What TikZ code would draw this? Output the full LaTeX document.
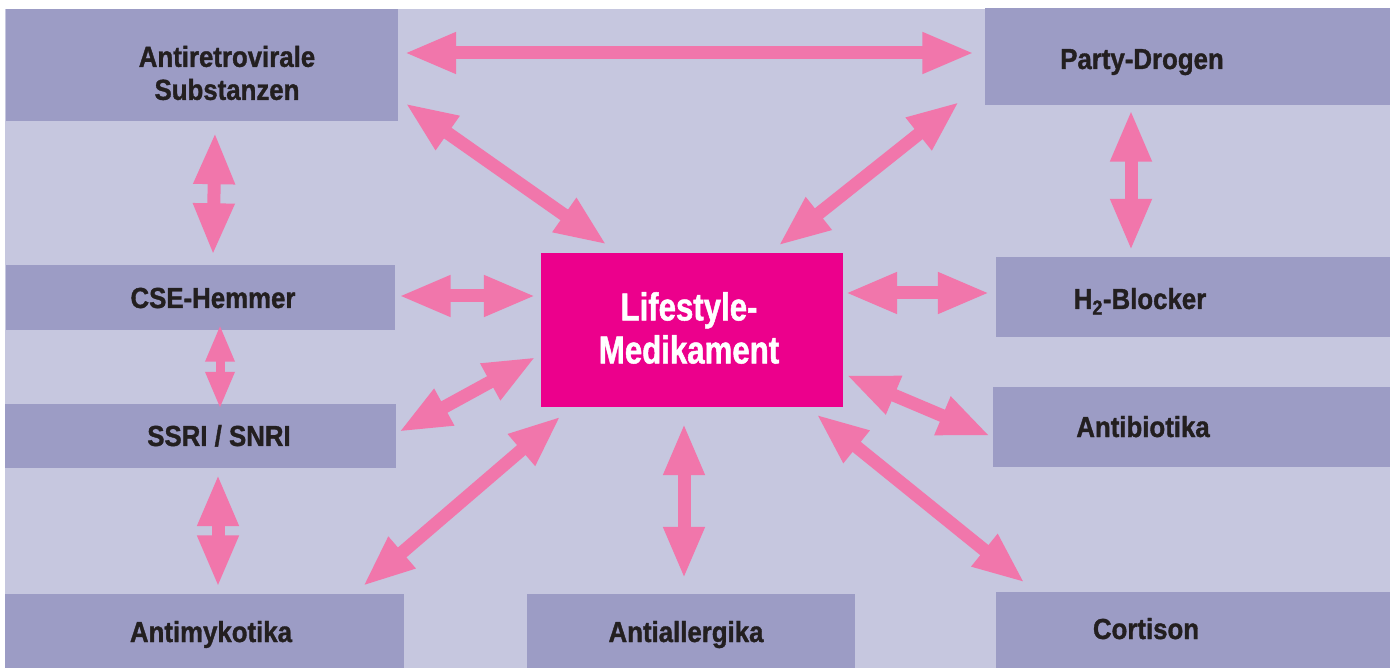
\documentclass[tikz,border=0pt]{standalone}
\usepackage{fontspec}
\setmainfont{Liberation Sans}[FakeStretch=0.89,BoldFeatures={FakeBold=1.2}]
\newfontfamily\lifefont{Liberation Sans}[FakeStretch=0.80,BoldFeatures={FakeBold=1.2}]
\usepackage{tikz}
\usetikzlibrary{arrows.meta}
\definecolor{bglilac}{HTML}{C6C7DF}
\definecolor{boxlilac}{HTML}{9C9CC5}
\definecolor{lifemagenta}{HTML}{EC008C}
\definecolor{arrowpink}{HTML}{F176AB}
\definecolor{labelgrey}{HTML}{231F20}
\tikzset{
    drug box/.style={
        fill=boxlilac,
        inner sep=0pt
    },
    drug label/.style={
        text=labelgrey,
        font=\fontsize{29}{33}\selectfont\bfseries,
        align=center,
        inner sep=0pt
    },
    both ways/.style={
        draw=arrowpink,
        line width=13pt,
        {Triangle[width=38pt,length=52pt]}-{Triangle[width=38pt,length=52pt]}
    },
    both ways small/.style={
        draw=arrowpink,
        line width=9pt,
        {Triangle[width=27pt,length=37pt]}-{Triangle[width=27pt,length=37pt]}
    }
}
\begin{document}
\begin{tikzpicture}[x=1pt,y=-1pt]
            \useasboundingbox (0,0) rectangle (1393,668);
            \fill[bglilac] (5,9) rectangle (1390,668);

            % boxes
            \node[drug box, minimum width=392pt, minimum height=112pt] (anti) at (202,65) {};
            \node[drug box, minimum width=405pt, minimum height=97pt] (party) at (1187,57) {};
            \node[drug box, minimum width=389pt, minimum height=65pt] (cse) at (200,298) {};
            \node[drug box, minimum width=391pt, minimum height=64pt] (ssri) at (200,436) {};
            \node[drug box, minimum width=399pt, minimum height=75pt] (myk) at (204,631) {};
            \node[drug box, minimum width=328pt, minimum height=74pt] (allerg) at (691,631) {};
            \node[drug box, minimum width=394pt, minimum height=76pt] (cort) at (1193,630) {};
            \node[drug box, minimum width=394pt, minimum height=80pt] (h2) at (1193,297) {};
            \node[drug box, minimum width=397pt, minimum height=80pt] (antibio) at (1191,427) {};
            \node[fill=lifemagenta, inner sep=0pt, minimum width=302pt, minimum height=154pt] (life) at (692,330) {};

            % labels
            \node[drug label] (anti-t) at (227,73) {Antiretrovirale\\Substanzen};
            \node[drug label, anchor=base] (party-t) at (1142,69) {Party-Drogen};
            \node[drug label, anchor=base] (cse-t) at (213,308) {CSE-Hemmer};
            \node[drug label, anchor=base] (ssri-t) at (219,446) {SSRI / SNRI};
            \node[drug label, anchor=base] (myk-t) at (211,642) {Antimykotika};
            \node[drug label, anchor=base] (allerg-t) at (686,642) {Antiallergika};
            \node[drug label, anchor=base] (cort-t) at (1146,639) {Cortison};
            \node[drug label, anchor=base] (h2-t) at (1140,309) {H\textsubscript{2}-Blocker};
            \node[drug label, anchor=base] (antibio-t) at (1143,437) {Antibiotika};
            \node[drug label, text=white, font=\lifefont\fontsize{39}{43}\selectfont\bfseries] (life-t) at (689,328) {Lifestyle-\\Medikament};

            % arrows
            \draw[both ways] ([shift={(6,-12)}]anti.east) -- ([shift={(-10,-4)}]party.west);
            \draw[both ways] ([shift={(7,-18)}]anti.south east) -- ([shift={(66,-8)}]life.north west);
            \draw[both ways] ([shift={(-25,-4)}]party.south west) -- ([shift={(-65,-7)}]life.north east);
            \draw[both ways] ([shift={(13,11)}]anti.south) -- ([shift={(13,-10)}]cse.north);
            \draw[both ways] ([shift={(-56,4)}]party.south) -- ([shift={(-62,-6)}]h2.north);
            \draw[both ways] ([shift={(4,-2)}]cse.east) -- ([shift={(-5,-34)}]life.west);
            \draw[both ways] ([shift={(2,-37)}]life.east) -- ([shift={(-6,-4)}]h2.west);
            \draw[both ways small] ([shift={(20,-6)}]cse.south) -- ([shift={(20,5)}]ssri.north);
            \draw[both ways] ([shift={(3,-4)}]ssri.east) -- ([shift={(-5,27)}]life.west);
            \draw[both ways] ([shift={(18,6)}]ssri.south) -- ([shift={(14,-6)}]myk.north);
            \draw[both ways] ([shift={(-41,-7)}]myk.north east) -- ([shift={(20,9)}]life.south west);
            \draw[both ways] ([shift={(-8,16)}]life.south) -- ([shift={(-7,-15)}]allerg.north);
            \draw[both ways] ([shift={(3,45)}]life.east) -- ([shift={(-2,9)}]antibio.west);
            \draw[both ways] ([shift={(-27,7)}]life.south east) -- ([shift={(29,-9)}]cort.north west);
\end{tikzpicture}
\end{document}
